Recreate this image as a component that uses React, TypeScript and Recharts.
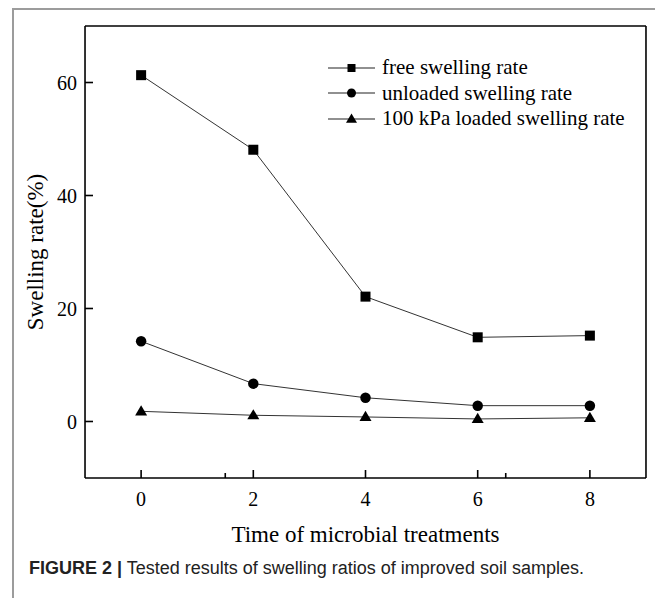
import React from "react";
import { LineChart, Line, XAxis, YAxis, Legend, Label } from "recharts";

const treatmentTimes = [0, 2, 4, 6, 8];
const freeSwelling = [61.3, 48.1, 22.1, 14.9, 15.2];
const unloadedSwelling = [14.2, 6.7, 4.2, 2.8, 2.8];
const loadedSwelling = [1.8, 1.1, 0.8, 0.45, 0.65];

const majorXTicks = [0, 2, 4, 6, 8];
const minorXTicks = [1, 3, 5, 7];
const majorYTicks = [0, 20, 40, 60];
const minorYTicks = [10, 30, 50];

const seriesNames = ["free swelling rate", "unloaded swelling rate", "100 kPa loaded swelling rate"];

const data = treatmentTimes.map((t, i) => ({
  time: t,
  free: freeSwelling[i],
  unloaded: unloadedSwelling[i],
  loaded: loadedSwelling[i],
}));

const serif = "'Liberation Serif', 'Times New Roman', serif";
const tickStyle = { fontFamily: serif, fontSize: 20, fill: "#000" };
const blank = () => "";
// axes with zero size are not drawn, so keep them just above zero
const thin = 0.01;

type Shape = "square" | "circle" | "triangle";

const drawMarker = (shape: Shape, cx: number, cy: number, size: number, key?: string) => {
  if (shape === "square") {
    return <rect key={key} x={cx - size / 2} y={cy - size / 2} width={size} height={size} fill="#000" />;
  }
  if (shape === "circle") {
    return <circle key={key} cx={cx} cy={cy} r={size / 2} fill="#000" />;
  }
  const h = size * 0.85;
  return (
    <polygon
      key={key}
      points={`${cx},${cy - h * 0.6} ${cx - size / 2},${cy + h * 0.4} ${cx + size / 2},${cy + h * 0.4}`}
      fill="#000"
    />
  );
};

const makeDot = (shape: Shape, size: number) => (props: any) =>
  drawMarker(shape, props.cx, props.cy, size, `${shape}-${props.index}`);

const legendShapes: Shape[] = ["square", "circle", "triangle"];
const legendSizes = [8, 9, 11];

const renderLegend = () => (
  <div>
    {seriesNames.map((name, i) => (
      <div key={name} style={{ display: "flex", alignItems: "center", height: 25.5 }}>
        <svg width={50} height={24}>
          <line x1={1} y1={12} x2={48} y2={12} stroke="#222" strokeWidth={1.2} />
          {drawMarker(legendShapes[i], 24.5, 12, legendSizes[i])}
        </svg>
        <span style={{ fontFamily: serif, fontSize: 21, color: "#000", marginLeft: 5, whiteSpace: "nowrap" }}>
          {name}
        </span>
      </div>
    ))}
  </div>
);

const frameLine = { stroke: "#000", strokeWidth: 1.6 };

export default function App() {
  return (
    <div style={{ position: "relative", width: 663, height: 606, margin: -8, overflow: "hidden", background: "#fff" }}>
      <div
        style={{
          position: "absolute",
          left: 12,
          top: 8,
          width: 651,
          height: 700,
          boxSizing: "border-box",
          border: "2px solid #9c9c9c",
        }}
      />
      <div style={{ position: "absolute", left: 0, top: 0 }}>
        <LineChart width={663} height={606} data={data} margin={{ top: 26, right: 17, bottom: 128, left: 85 }}>
          <XAxis
            xAxisId="main"
            dataKey="time"
            type="number"
            domain={[-1, 9]}
            ticks={majorXTicks}
            interval={0}
            height={thin}
            tickSize={-8}
            tickMargin={22}
            tick={tickStyle}
            axisLine={frameLine}
            tickLine={frameLine}
          >
            <Label
              value="Time of microbial treatments"
              position="bottom"
              offset={48}
              style={{ fontFamily: serif, fontSize: 23, fill: "#000" }}
            />
          </XAxis>
          <XAxis
            xAxisId="minor"
            type="number"
            domain={[-1, 9]}
            ticks={minorXTicks}
            interval={0}
            height={thin}
            tickSize={-5}
            tickFormatter={blank}
            axisLine={false}
            tickLine={frameLine}
          />
          <XAxis
            xAxisId="top"
            orientation="top"
            type="number"
            domain={[-1, 9]}
            height={thin}
            ticks={majorXTicks}
            tickFormatter={blank}
            tickLine={false}
            axisLine={frameLine}
          />
          <YAxis
            yAxisId="main"
            type="number"
            domain={[-10, 70]}
            ticks={majorYTicks}
            interval={0}
            width={thin}
            tickSize={-8}
            tickMargin={16}
            tick={tickStyle}
            axisLine={frameLine}
            tickLine={frameLine}
          >
            <Label
              value="Swelling rate(%)"
              angle={-90}
              position="left"
              offset={50}
              style={{ fontFamily: serif, fontSize: 23, fill: "#000", textAnchor: "middle" }}
            />
          </YAxis>
          <YAxis
            yAxisId="minor"
            type="number"
            domain={[-10, 70]}
            ticks={minorYTicks}
            interval={0}
            width={thin}
            tickSize={-5}
            tickFormatter={blank}
            axisLine={false}
            tickLine={frameLine}
          />
          <YAxis
            yAxisId="right"
            orientation="right"
            type="number"
            domain={[-10, 70]}
            ticks={majorYTicks}
            interval={0}
            width={thin}
            tickSize={-8}
            tickFormatter={blank}
            axisLine={frameLine}
            tickLine={frameLine}
          />
          <YAxis
            yAxisId="rightMinor"
            orientation="right"
            type="number"
            domain={[-10, 70]}
            ticks={minorYTicks}
            interval={0}
            width={thin}
            tickSize={-5}
            tickFormatter={blank}
            axisLine={false}
            tickLine={frameLine}
          />
          <Legend
            layout="vertical"
            align="center"
            verticalAlign="middle"
            content={renderLegend}
            wrapperStyle={{ left: 327, top: 55, width: 320, height: 80 }}
          />
          <Line
            xAxisId="main"
            yAxisId="main"
            dataKey="free"
            name={seriesNames[0]}
            stroke="#333"
            strokeWidth={1}
            dot={makeDot("square", 10)}
            isAnimationActive={false}
          />
          <Line
            xAxisId="main"
            yAxisId="main"
            dataKey="unloaded"
            name={seriesNames[1]}
            stroke="#333"
            strokeWidth={1}
            dot={makeDot("circle", 10.5)}
            isAnimationActive={false}
          />
          <Line
            xAxisId="main"
            yAxisId="main"
            dataKey="loaded"
            name={seriesNames[2]}
            stroke="#333"
            strokeWidth={1}
            dot={makeDot("triangle", 12)}
            isAnimationActive={false}
          />
        </LineChart>
      </div>
      <div
        style={{
          position: "absolute",
          left: 29,
          top: 558,
          fontFamily: "'Liberation Sans', Arial, sans-serif",
          fontSize: 18,
          color: "#222",
          whiteSpace: "nowrap",
        }}
      >
        <b>FIGURE 2 |</b> Tested results of swelling ratios of improved soil samples.
      </div>
    </div>
  );
}
